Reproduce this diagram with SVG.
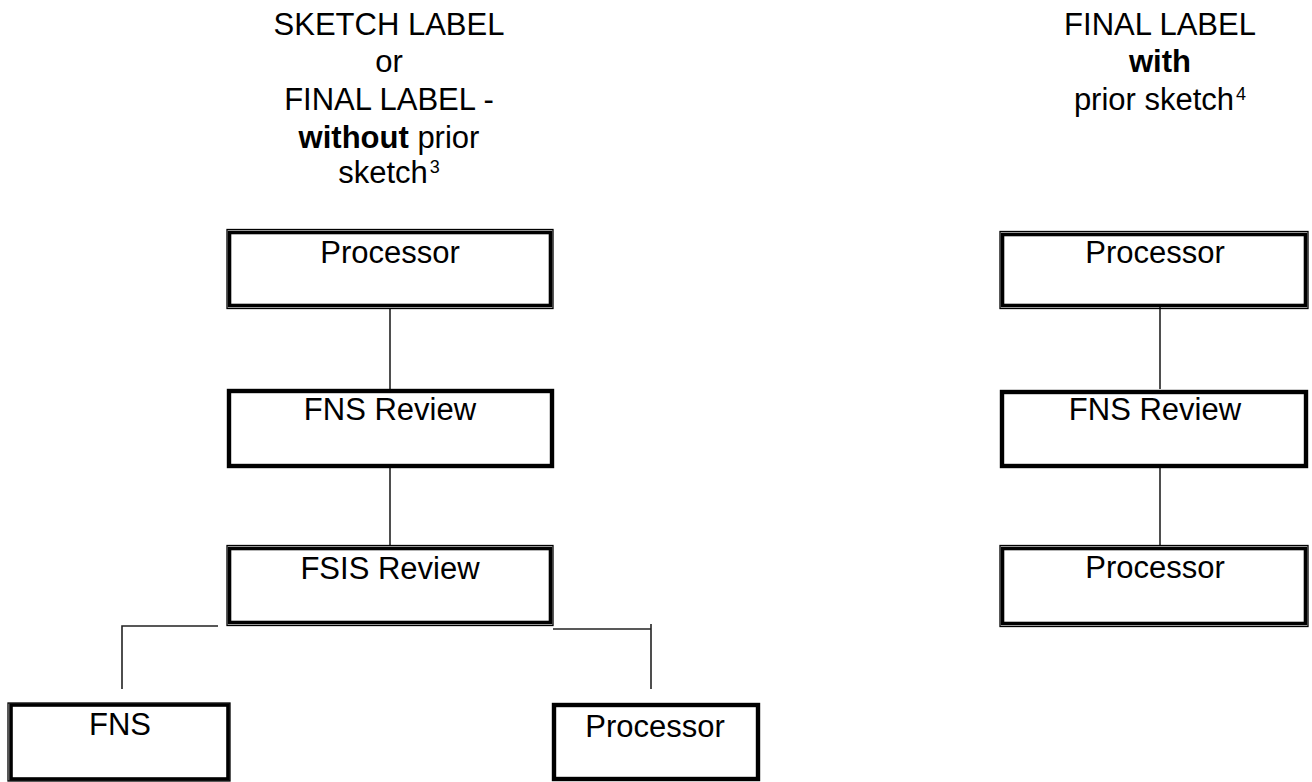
<svg xmlns="http://www.w3.org/2000/svg" width="1312" height="782" viewBox="0 0 1312 782">
<style>
  text { font-family: "Liberation Sans", Arial, sans-serif; font-size: 31px; fill: #000; text-anchor: middle; }
  .b { font-weight: bold; }
  .sup { font-size: 18px; }
  .thin { fill: none; stroke: #000; stroke-width: 1.3; }
  .thick { fill: #fff; stroke: #000; stroke-width: 3.6; }
  .single { fill: #fff; stroke: #000; stroke-width: 4.4; }
  .conn { fill: none; stroke: #222; stroke-width: 1.6; }
</style>
<rect width="1312" height="782" fill="#fff"/>
<g id="heading-left">
  <text x="389" y="35">SKETCH LABEL</text>
  <text x="389" y="72">or</text>
  <text x="389" y="110">FINAL LABEL -</text>
  <text x="389" y="148"><tspan class="b">without</tspan> prior</text>
  <text x="389" y="183">sketch<tspan class="sup" dx="2" dy="-10">3</tspan></text>
</g>
<g id="heading-right">
  <text x="1160" y="35">FINAL LABEL</text>
  <text x="1160" y="72" class="b">with</text>
  <text x="1160" y="110">prior sketch<tspan class="sup" dx="2" dy="-10">4</tspan></text>
</g>
<g id="connectors">
  <line class="conn" x1="390" y1="309" x2="390" y2="389"/>
  <line class="conn" x1="390" y1="468" x2="390" y2="545"/>
  <polyline class="conn" points="218,626 122,626 122,689"/>
  <line class="conn" x1="553" y1="629" x2="651" y2="629"/>
  <line class="conn" x1="651" y1="624" x2="651" y2="689"/>
  <line class="conn" x1="1160" y1="305" x2="1160" y2="389"/>
  <line class="conn" x1="1160" y1="466" x2="1160" y2="545"/>
</g>
<g id="node-processor-left">
  <rect class="thick" x="229.5" y="232.5" width="321" height="73"/>
  <rect class="thin" x="227" y="229.5" width="326" height="79"/>
  <text x="390" y="263">Processor</text>
</g>
<g id="node-fns-review-left">
  <rect class="single" x="229" y="391" width="323" height="75"/>
  <text x="390" y="420">FNS Review</text>
</g>
<g id="node-fsis-review">
  <rect class="thick" x="229.5" y="548.5" width="321" height="74"/>
  <rect class="thin" x="227" y="545.5" width="326" height="80"/>
  <text x="390" y="579">FSIS Review</text>
</g>
<g id="node-fns">
  <rect class="thick" x="11" y="705" width="217" height="74"/>
  <rect class="thin" x="8" y="703" width="222" height="78"/>
  <text x="120" y="735">FNS</text>
</g>
<g id="node-processor-bottom">
  <rect class="single" x="554" y="705" width="204" height="74"/>
  <text x="655" y="737">Processor</text>
</g>
<g id="node-processor-right-top">
  <rect class="thick" x="1002.5" y="234.5" width="303" height="71"/>
  <rect class="thin" x="1000" y="231.5" width="308" height="77"/>
  <text x="1155" y="263">Processor</text>
</g>
<g id="node-fns-review-right">
  <rect class="single" x="1002" y="392" width="304" height="74"/>
  <text x="1155" y="420">FNS Review</text>
</g>
<g id="node-processor-right-bottom">
  <rect class="thick" x="1002.5" y="548.5" width="303" height="75"/>
  <rect class="thin" x="1000" y="545.5" width="308" height="81"/>
  <text x="1155" y="578">Processor</text>
</g>
</svg>
